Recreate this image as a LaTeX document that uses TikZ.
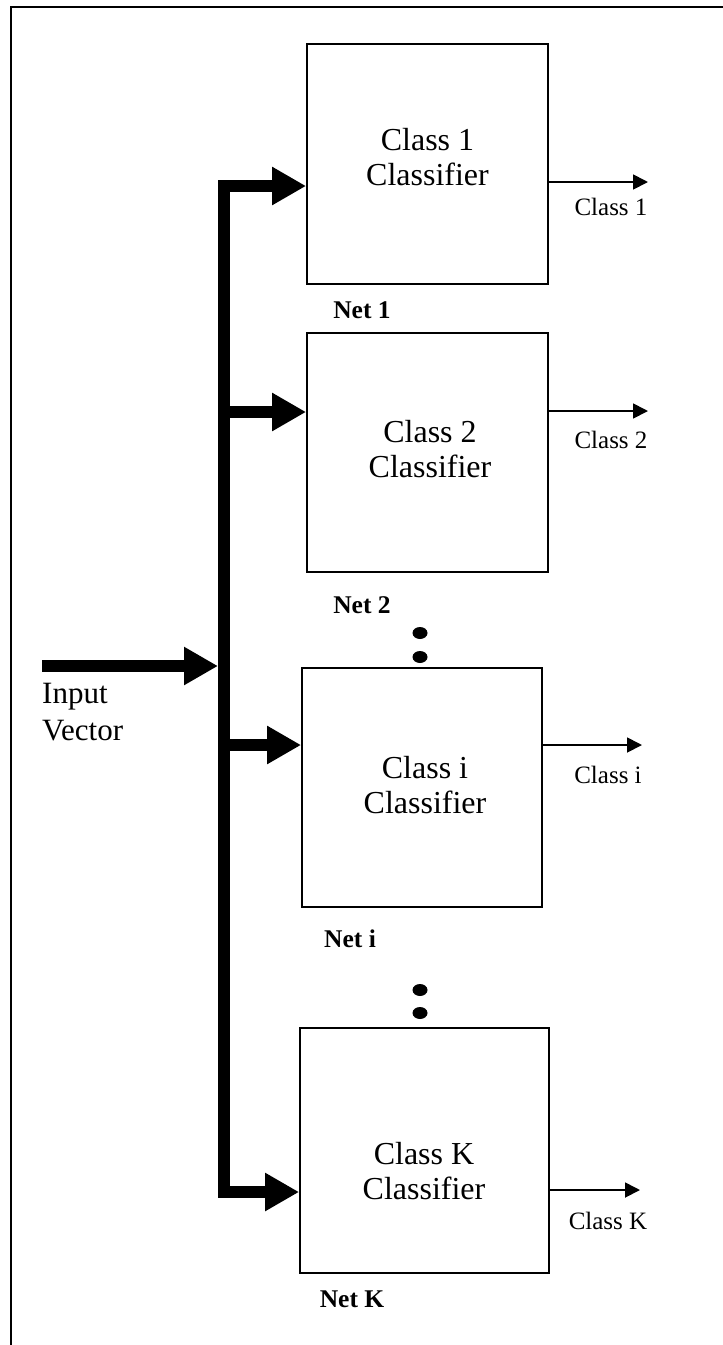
\documentclass[tikz,border=0pt]{standalone}
\usepackage{fontspec}
\setmainfont{Liberation Serif}
\usetikzlibrary{arrows.meta}
\tikzset{
  box/.style={draw, line width=1.8pt, inner sep=0pt},
  bigtxt/.style={font=\fontsize{32}{35}\selectfont, align=center, inner sep=0pt},
  smalltxt/.style={font=\fontsize{25}{29}\selectfont, inner sep=0pt},
  nettxt/.style={font=\fontsize{25.5}{29}\selectfont\bfseries, inner sep=0pt},
  bus/.style={line width=12pt, line cap=butt},
  fat/.style={line width=12pt, line cap=butt, -{Triangle[length=34pt,width=36pt]}},
  thin/.style={line width=1.8pt, -{Triangle[length=15pt,width=15pt]}},
}
\begin{document}
\begin{tikzpicture}[x=1pt,y=-1pt]
\useasboundingbox (0,0) rectangle (723,1345);
% border
\draw[line width=2pt] (723,7) -- (11,7) -- (11,1345);
% boxes
\node[box, minimum width=241pt, minimum height=240pt] (b1) at (427.5,164) {};
\node[box, minimum width=241pt, minimum height=239pt] (b2) at (427.5,452.5) {};
\node[box, minimum width=240pt, minimum height=239pt] (bi) at (422,787.5) {};
\node[box, minimum width=249pt, minimum height=245pt] (bK) at (424.5,1150.5) {};
% box texts
\node[bigtxt] (t1) at (427.5,157) {Class 1\\Classifier};
\node[bigtxt] (t2) at (430,449) {Class 2\\Classifier};
\node[bigtxt] (ti) at (425,785) {Class i\\Classifier};
\node[bigtxt] (tK) at (424,1171) {Class K\\Classifier};
% net labels
\node[nettxt] (n1) at (362,310) {Net 1};
\node[nettxt] (n2) at (362,605) {Net 2};
\node[nettxt] (ni) at (350,939) {Net i};
\node[nettxt] (nK) at (352,1299) {Net K};
% dots
\fill (420,633) ellipse (7.5pt and 6pt);
\fill (420,657) ellipse (7.5pt and 6pt);
\fill (420,990) ellipse (7.5pt and 6pt);
\fill (420,1013) ellipse (7.5pt and 6pt);
% bus
\coordinate (jtop) at (224,180);
\coordinate (jbot) at (224,1198);
\draw[bus] (jtop) -- (jbot);
\coordinate (s1) at (218,186);
\coordinate (s2) at (218,412);
\coordinate (si) at (218,745);
\coordinate (sK) at (218,1192);
\draw[fat] (s1) -- (b1.west |- s1);
\draw[fat] (s2) -- (b2.west |- s2);
\draw[fat] (si) -- (bi.west |- si);
\draw[fat] (sK) -- (bK.west |- sK);
% input
\coordinate (in) at (42,666);
\coordinate (inend) at (218,666);
\draw[fat] (in) -- (inend);
\node[font=\fontsize{31}{37}\selectfont, align=left, anchor=north west, inner sep=0pt] (inlab) at (42,683) {Input\\Vector};
% outputs
\coordinate (e1) at (648,182);
\coordinate (e2) at (648,411);
\coordinate (ei) at (642,745);
\coordinate (eK) at (640,1190);
\draw[thin] (b1.east |- e1) -- (e1);
\draw[thin] (b2.east |- e2) -- (e2);
\draw[thin] (bi.east |- ei) -- (ei);
\draw[thin] (bK.east |- eK) -- (eK);
\node[smalltxt] (c1) at (611,207) {Class 1};
\node[smalltxt] (c2) at (611,440) {Class 2};
\node[smalltxt] (ci) at (608,775) {Class i};
\node[smalltxt] (cK) at (608,1221) {Class K};
\end{tikzpicture}
\end{document}
